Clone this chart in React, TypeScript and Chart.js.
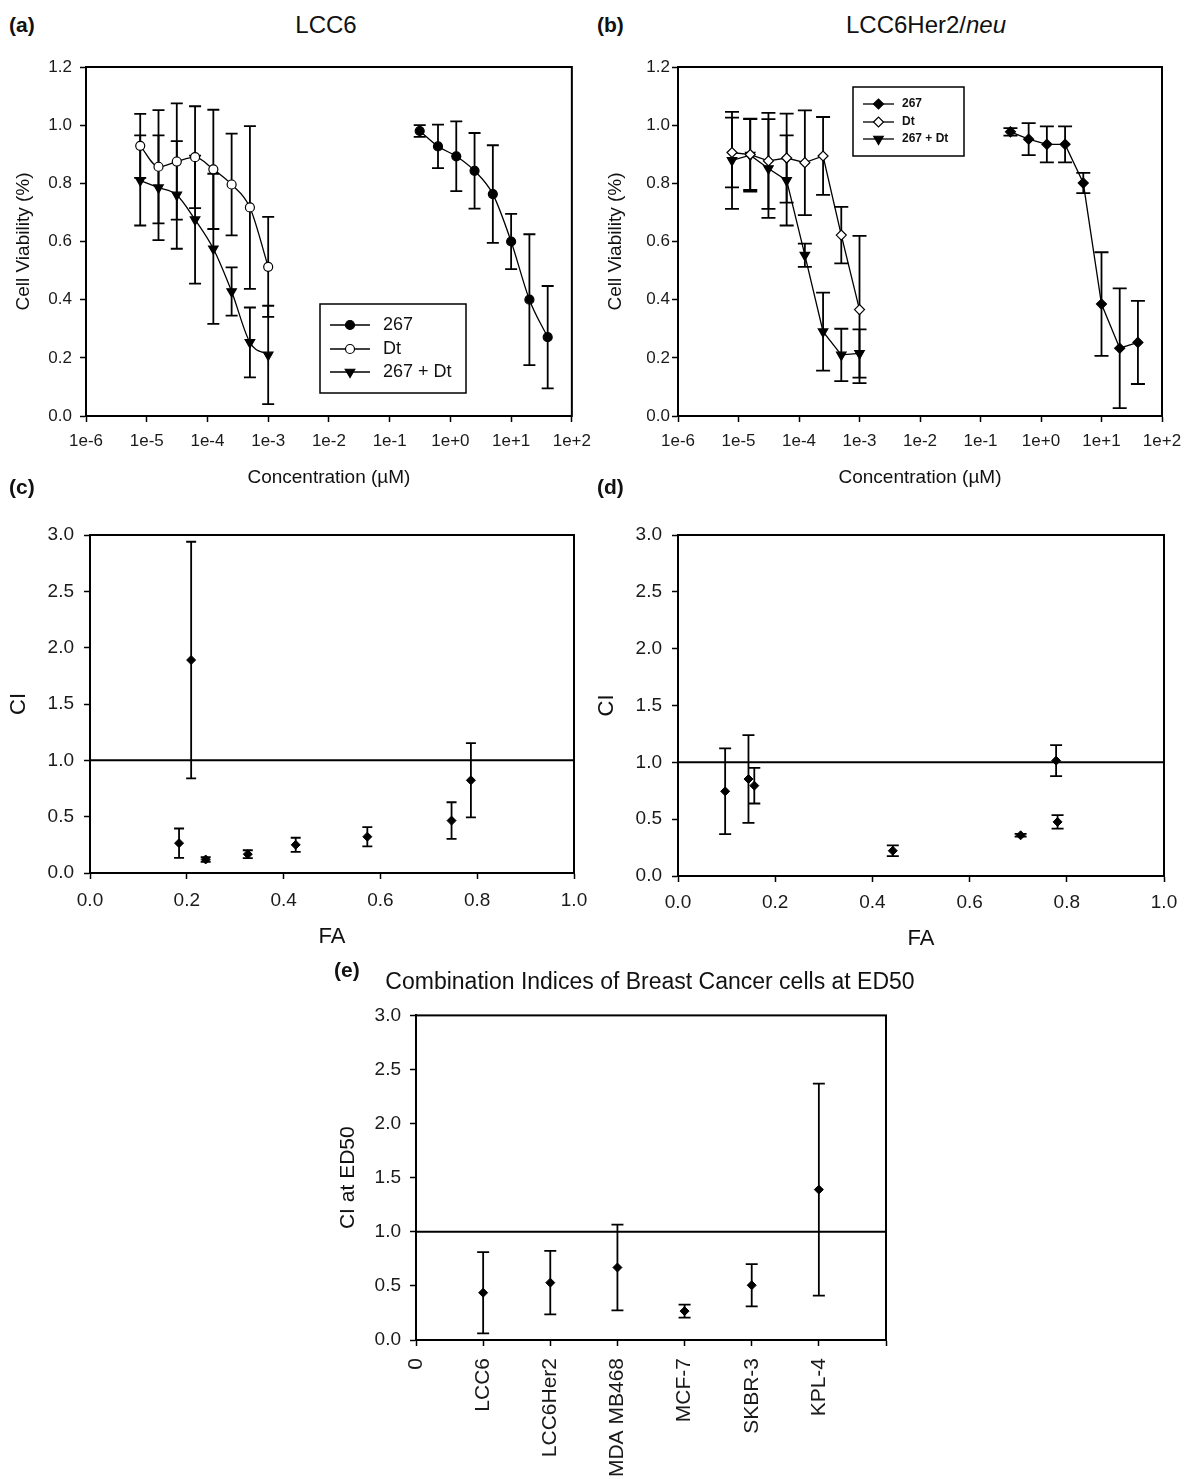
import React, { useEffect, useRef } from "react";
import { Chart, registerables } from "chart.js";
import { drawPoint } from "chart.js/helpers";

Chart.register(...registerables);

const FONT = '"Liberation Sans", Arial, Helvetica, sans-serif';
const INK = "#111";
Chart.defaults.font.family = FONT;
Chart.defaults.color = INK;

// ---------------- DATA ----------------
const seriesLabels = ["267", "Dt", "267 + Dt"];

const concLow = [7.8125e-6, 1.5625e-5, 3.125e-5, 6.25e-5, 1.25e-4, 2.5e-4, 5e-4, 1e-3];
const concHigh = [0.3125, 0.625, 1.25, 2.5, 5, 10, 20, 40];
const logTickValues = [1e-6, 1e-5, 1e-4, 1e-3, 1e-2, 1e-1, 1, 10, 100];
const logTickLabels = ["1e-6", "1e-5", "1e-4", "1e-3", "1e-2", "1e-1", "1e+0", "1e+1", "1e+2"];
const viabilityTicks = [0, 0.2, 0.4, 0.6, 0.8, 1.0, 1.2];
const viabilityTickLabels = ["0.0", "0.2", "0.4", "0.6", "0.8", "1.0", "1.2"];

// (a) LCC6
const a267Mean = [0.98, 0.927, 0.893, 0.843, 0.763, 0.6, 0.4, 0.271];
const a267Err = [0.02, 0.075, 0.12, 0.13, 0.168, 0.095, 0.225, 0.176];
const aDtMean = [0.929, 0.857, 0.875, 0.89, 0.848, 0.796, 0.717, 0.513];
const aDtErr = [0.11, 0.195, 0.2, 0.175, 0.205, 0.175, 0.28, 0.172];
const aComboMean = [0.81, 0.785, 0.76, 0.675, 0.575, 0.428, 0.253, 0.21];
const aComboErr = [0.155, 0.18, 0.185, 0.22, 0.258, 0.083, 0.12, 0.169];

// (b) LCC6Her2/neu
const b267Mean = [0.977, 0.952, 0.934, 0.934, 0.801, 0.385, 0.233, 0.253];
const b267Err = [0.013, 0.055, 0.062, 0.062, 0.035, 0.178, 0.206, 0.143];
const bDtMean = [0.906, 0.899, 0.877, 0.887, 0.871, 0.894, 0.622, 0.366];
const bDtErr = [0.12, 0.122, 0.165, 0.153, 0.18, 0.134, 0.097, 0.253];
const bComboMean = [0.879, 0.897, 0.851, 0.81, 0.553, 0.29, 0.21, 0.215];
const bComboErr = [0.167, 0.125, 0.17, 0.155, 0.04, 0.134, 0.09, 0.083];

// CI axes
const ciTicks = [0, 0.5, 1.0, 1.5, 2.0, 2.5, 3.0];
const ciTickLabels = ["0.0", "0.5", "1.0", "1.5", "2.0", "2.5", "3.0"];
const faTicks = [0, 0.2, 0.4, 0.6, 0.8, 1.0];
const faTickLabels = ["0.0", "0.2", "0.4", "0.6", "0.8", "1.0"];
const refLineCI = 1.0;

// (c) LCC6 CI vs FA
const cFA = [0.184, 0.209, 0.239, 0.326, 0.425, 0.573, 0.747, 0.787];
const cCI = [0.265, 1.89, 0.12, 0.167, 0.25, 0.322, 0.465, 0.823];
const cErr = [0.13, 1.05, 0.02, 0.035, 0.063, 0.086, 0.163, 0.33];

// (d) LCC6Her2 CI vs FA
const dFA = [0.097, 0.145, 0.157, 0.442, 0.705, 0.778, 0.781];
const dCI = [0.745, 0.853, 0.795, 0.222, 0.358, 1.015, 0.476];
const dErr = [0.377, 0.386, 0.157, 0.048, 0.012, 0.137, 0.06];

// (e) CI at ED50
const cellLines = ["LCC6", "LCC6Her2", "MDA MB468", "MCF-7", "SKBR-3", "KPL-4"];
const ed50CI = [0.437, 0.53, 0.67, 0.267, 0.506, 1.39];
const ed50Err = [0.376, 0.294, 0.396, 0.06, 0.195, 0.98];
const eTickValues = [0, 1, 2, 3, 4, 5, 6, 7];
const eTickLabels = ["0", ...cellLines, ""];

// ---------------- HELPERS ----------------
type Pt = { x: number; y: number };
const pts = (xs: number[], ys: number[]): Pt[] => xs.map((x, i) => ({ x, y: ys[i] }));

const errorBars = {
  id: "errorBars",
  beforeDatasetsDraw(chart: any) {
    const ctx = chart.ctx;
    const xs = chart.scales.x;
    const ys = chart.scales.y;
    chart.data.datasets.forEach((ds: any) => {
      if (!ds.errors) return;
      const cap = ds.capHalf ?? 6;
      ctx.save();
      ctx.strokeStyle = "#000";
      ctx.lineWidth = 1.8;
      ds.data.forEach((p: Pt, i: number) => {
        const e = ds.errors[i];
        const x = xs.getPixelForValue(p.x);
        const y1 = ys.getPixelForValue(p.y + e);
        const y2 = ys.getPixelForValue(p.y - e);
        ctx.beginPath();
        ctx.moveTo(x, y1);
        ctx.lineTo(x, y2);
        ctx.moveTo(x - cap, y1);
        ctx.lineTo(x + cap, y1);
        ctx.moveTo(x - cap, y2);
        ctx.lineTo(x + cap, y2);
        ctx.stroke();
      });
      ctx.restore();
    });
  },
};

const frame = {
  id: "frame",
  afterDatasetsDraw(chart: any) {
    const { left, top, right, bottom } = chart.chartArea;
    const ctx = chart.ctx;
    ctx.save();
    ctx.strokeStyle = "#000";
    ctx.lineWidth = 2;
    ctx.strokeRect(left, top, right - left, bottom - top);
    ctx.restore();
  },
};

type LegendCfg = { box: number[]; rows: number[]; line: number[]; textX: number; font: string };
const makeLegend = (cfg: LegendCfg) => ({
  id: "boxLegend",
  afterDraw(chart: any) {
    const ctx = chart.ctx;
    ctx.save();
    ctx.strokeStyle = "#000";
    ctx.lineWidth = 1.5;
    ctx.strokeRect(cfg.box[0], cfg.box[1], cfg.box[2], cfg.box[3]);
    const items = chart.data.datasets.filter((d: any) => d.inLegend);
    items.forEach((ds: any, i: number) => {
      const y = cfg.rows[i];
      ctx.beginPath();
      ctx.strokeStyle = "#000";
      ctx.lineWidth = 1.3;
      ctx.moveTo(cfg.line[0], y);
      ctx.lineTo(cfg.line[1], y);
      ctx.stroke();
      ctx.fillStyle = ds.pointBackgroundColor;
      ctx.strokeStyle = "#000";
      ctx.lineWidth = ds.pointBorderWidth ?? 1;
      drawPoint(
        ctx,
        { pointStyle: ds.pointStyle, rotation: ds.pointRotation || 0, radius: ds.pointRadius, borderWidth: ds.pointBorderWidth ?? 1 } as any,
        (cfg.line[0] + cfg.line[1]) / 2,
        y
      );
      ctx.fillStyle = INK;
      ctx.font = cfg.font;
      ctx.textBaseline = "middle";
      ctx.textAlign = "left";
      ctx.fillText(ds.label, cfg.textX, y);
    });
    ctx.restore();
  },
});

const gridOpts = { drawOnChartArea: false, drawTicks: true, tickLength: 6, tickColor: "#000", tickWidth: 1.5, color: "#000" };
const borderOpts = { display: true, color: "#000", width: 2 };

type ScaleSpec = {
  type: string;
  min: number;
  max: number;
  tickValues: number[];
  tickLabels: string[];
  font: number;
  pad: number;
  size: number;
  title?: string;
  titleFont?: number;
  titlePad?: any;
  rot?: number;
};

function scale(s: ScaleSpec, horizontal: boolean) {
  return {
    type: s.type,
    min: s.min,
    max: s.max,
    position: horizontal ? "bottom" : "left",
    afterBuildTicks: (ax: any) => {
      ax.ticks = s.tickValues.map((v) => ({ value: v }));
    },
    afterFit: (ax: any) => {
      if (horizontal) ax.height = s.size;
      else ax.width = s.size;
    },
    ticks: {
      autoSkip: false,
      callback: (_v: any, i: number) => s.tickLabels[i],
      font: { size: s.font, family: FONT },
      color: "#1a1a1a",
      padding: s.pad,
      minRotation: s.rot ?? 0,
      maxRotation: s.rot ?? 0,
    },
    grid: gridOpts,
    border: borderOpts,
    title: s.title
      ? { display: true, text: s.title, color: INK, font: { size: s.titleFont, family: FONT }, padding: s.titlePad }
      : { display: false },
  };
}

function baseConfig(datasets: any[], xs: ScaleSpec, ys: ScaleSpec, padding: any, plugins: any[]) {
  return {
    type: "scatter",
    data: { datasets },
    options: {
      responsive: false,
      animation: false,
      events: [],
      layout: { padding },
      plugins: { legend: { display: false }, tooltip: { enabled: false } },
      scales: { x: scale(xs, true), y: scale(ys, false) },
    },
    plugins: [errorBars, frame, ...plugins],
  };
}

const seriesDs = (label: string, data: Pt[], errors: number[], style: any, extra: any = {}) => ({
  label,
  data,
  errors,
  showLine: true,
  borderColor: "#000",
  borderWidth: 1.3,
  pointBorderColor: "#000",
  pointBorderWidth: 1.2,
  inLegend: true,
  ...style,
  ...extra,
});

const filledCircle = { pointStyle: "circle", pointRadius: 4.5, pointBackgroundColor: "#000" };
const openCircle = { pointStyle: "circle", pointRadius: 4.5, pointBackgroundColor: "#fff" };
const filledDiamond = { pointStyle: "rectRot", pointRadius: 5, pointBackgroundColor: "#000" };
const openDiamond = { pointStyle: "rectRot", pointRadius: 5, pointBackgroundColor: "#fff" };
const downTriangle = { pointStyle: "triangle", pointRotation: 180, pointRadius: 5.5, pointBackgroundColor: "#000" };

const refDs = (xmin: number, xmax: number) => ({
  label: "ref",
  data: [
    { x: xmin, y: refLineCI },
    { x: xmax, y: refLineCI },
  ],
  showLine: true,
  pointRadius: 0,
  borderColor: "#000",
  borderWidth: 2,
});

const ciDs = (xs: number[], ys: number[], errs: number[], cap: number) => ({
  label: "CI",
  data: pts(xs, ys),
  errors: errs,
  capHalf: cap,
  showLine: false,
  pointStyle: "rectRot",
  pointRadius: 4.5,
  pointBackgroundColor: "#000",
  pointBorderColor: "#000",
  pointBorderWidth: 1,
});

// ---------------- CONFIGS ----------------
const configA = () =>
  baseConfig(
    [
      seriesDs(seriesLabels[0], pts(concHigh, a267Mean), a267Err, filledCircle, { cubicInterpolationMode: "monotone", capHalf: 6 }),
      seriesDs(seriesLabels[1], pts(concLow, aDtMean), aDtErr, openCircle, { cubicInterpolationMode: "monotone", capHalf: 6 }),
      seriesDs(seriesLabels[2], pts(concLow, aComboMean), aComboErr, downTriangle, { cubicInterpolationMode: "monotone", capHalf: 6 }),
    ],
    { type: "logarithmic", min: 1e-6, max: 100, tickValues: logTickValues, tickLabels: logTickLabels, font: 17, pad: 9, size: 84, title: "Concentration (\u00b5M)", titleFont: 19, titlePad: { top: 0, bottom: 11 } },
    { type: "linear", min: 0, max: 1.2, tickValues: viabilityTicks, tickLabels: viabilityTickLabels, font: 17, pad: 8, size: 84, title: "Cell Viability (%)", titleFont: 19, titlePad: { top: 10, bottom: 0 } },
    { left: 2, top: 27, right: 28, bottom: 0 },
    [makeLegend({ box: [320, 264, 146, 89], rows: [285, 309, 332], line: [330, 370], textX: 383, font: `18px ${FONT}` })]
  );

const configB = () =>
  baseConfig(
    [
      seriesDs(seriesLabels[0], pts(concHigh, b267Mean), b267Err, filledDiamond, { capHalf: 7 }),
      seriesDs(seriesLabels[1], pts(concLow, bDtMean), bDtErr, openDiamond, { capHalf: 7 }),
      seriesDs(seriesLabels[2], pts(concLow, bComboMean), bComboErr, downTriangle, { capHalf: 7 }),
    ],
    { type: "logarithmic", min: 1e-6, max: 100, tickValues: logTickValues, tickLabels: logTickLabels, font: 17, pad: 9, size: 84, title: "Concentration (\u00b5M)", titleFont: 19, titlePad: { top: 0, bottom: 11 } },
    { type: "linear", min: 0, max: 1.2, tickValues: viabilityTicks, tickLabels: viabilityTickLabels, font: 17, pad: 2, size: 78, title: "Cell Viability (%)", titleFont: 19, titlePad: { top: 4, bottom: 0 } },
    { left: 0, top: 27, right: 38, bottom: 0 },
    [makeLegend({ box: [253, 47, 111, 69], rows: [64, 82, 99], line: [263, 294], textX: 302, font: `bold 12px ${FONT}` })]
  );

const configC = () =>
  baseConfig(
    [ciDs(cFA, cCI, cErr, 5), refDs(0, 1)],
    { type: "linear", min: 0, max: 1, tickValues: faTicks, tickLabels: faTickLabels, font: 19, pad: 10, size: 87, title: "FA", titleFont: 22, titlePad: { top: 0, bottom: 10 } },
    { type: "linear", min: 0, max: 3, tickValues: ciTicks, tickLabels: ciTickLabels, font: 19, pad: 10, size: 90, title: "CI", titleFont: 22, titlePad: { top: 6, bottom: 0 } },
    { left: 0, top: 35, right: 26, bottom: 0 },
    []
  );

const configD = () =>
  baseConfig(
    [ciDs(dFA, dCI, dErr, 6), refDs(0, 1)],
    { type: "linear", min: 0, max: 1, tickValues: faTicks, tickLabels: faTickLabels, font: 19, pad: 9, size: 84, title: "FA", titleFont: 22, titlePad: { top: 0, bottom: 8 } },
    { type: "linear", min: 0, max: 3, tickValues: ciTicks, tickLabels: ciTickLabels, font: 19, pad: 10, size: 88, title: "CI", titleFont: 22, titlePad: { top: 4, bottom: 0 } },
    { left: 0, top: 35, right: 36, bottom: 0 },
    []
  );

const configE = () =>
  baseConfig(
    [
      ciDs(
        cellLines.map((_, i) => i + 1),
        ed50CI,
        ed50Err,
        6
      ),
      refDs(0, 7),
    ],
    { type: "linear", min: 0, max: 7, tickValues: eTickValues, tickLabels: eTickLabels, font: 21, pad: 12, size: 139, rot: 90 },
    { type: "linear", min: 0, max: 3, tickValues: ciTicks, tickLabels: ciTickLabels, font: 19, pad: 9, size: 86, title: "CI at ED50", titleFont: 21, titlePad: { top: 6, bottom: 0 } },
    { left: 0, top: 17, right: 44, bottom: 0 },
    []
  );

// ---------------- COMPONENTS ----------------
function ChartPanel(props: { left: number; top: number; width: number; height: number; make: () => any }) {
  const ref = useRef<HTMLCanvasElement>(null);
  useEffect(() => {
    const chart = new Chart(ref.current as HTMLCanvasElement, props.make() as any);
    return () => chart.destroy();
  }, []);
  return (
    <div style={{ position: "absolute", left: props.left, top: props.top, width: props.width, height: props.height }}>
      <canvas ref={ref} width={props.width} height={props.height} style={{ display: "block", width: props.width, height: props.height }} />
    </div>
  );
}

function PanelLabel(props: { x: number; y: number; text: string }) {
  return (
    <div style={{ position: "absolute", left: props.x, top: props.y - 11, fontSize: 21, lineHeight: "22px", fontWeight: "bold", whiteSpace: "nowrap" }}>
      {props.text}
    </div>
  );
}

function Title(props: { cx: number; y: number; size: number; children: any }) {
  return (
    <div
      style={{
        position: "absolute",
        left: props.cx,
        top: props.y - props.size * 0.6,
        transform: "translateX(-50%)",
        fontSize: props.size,
        lineHeight: `${props.size * 1.2}px`,
        whiteSpace: "nowrap",
      }}
    >
      {props.children}
    </div>
  );
}

export default function App() {
  return (
    <div
      style={{
        position: "absolute",
        left: 0,
        top: 0,
        width: 1200,
        height: 1479,
        background: "#fff",
        fontFamily: FONT,
        color: INK,
        overflow: "hidden",
      }}
    >
      <ChartPanel left={0} top={40} width={600} height={460} make={configA} />
      <ChartPanel left={600} top={40} width={600} height={460} make={configB} />
      <ChartPanel left={0} top={500} width={600} height={460} make={configC} />
      <ChartPanel left={590} top={500} width={610} height={460} make={configD} />
      <ChartPanel left={330} top={995} width={600} height={484} make={configE} />

      <PanelLabel x={9} y={25} text="(a)" />
      <PanelLabel x={597} y={25} text="(b)" />
      <PanelLabel x={9} y={487} text="(c)" />
      <PanelLabel x={597} y={487} text="(d)" />
      <PanelLabel x={334} y={970} text="(e)" />

      <Title cx={326} y={25} size={24}>
        LCC6
      </Title>
      <Title cx={926} y={25} size={24}>
        LCC6Her2/<i>neu</i>
      </Title>
      <Title cx={650} y={982} size={23}>
        Combination Indices of Breast Cancer cells at ED50
      </Title>
    </div>
  );
}
